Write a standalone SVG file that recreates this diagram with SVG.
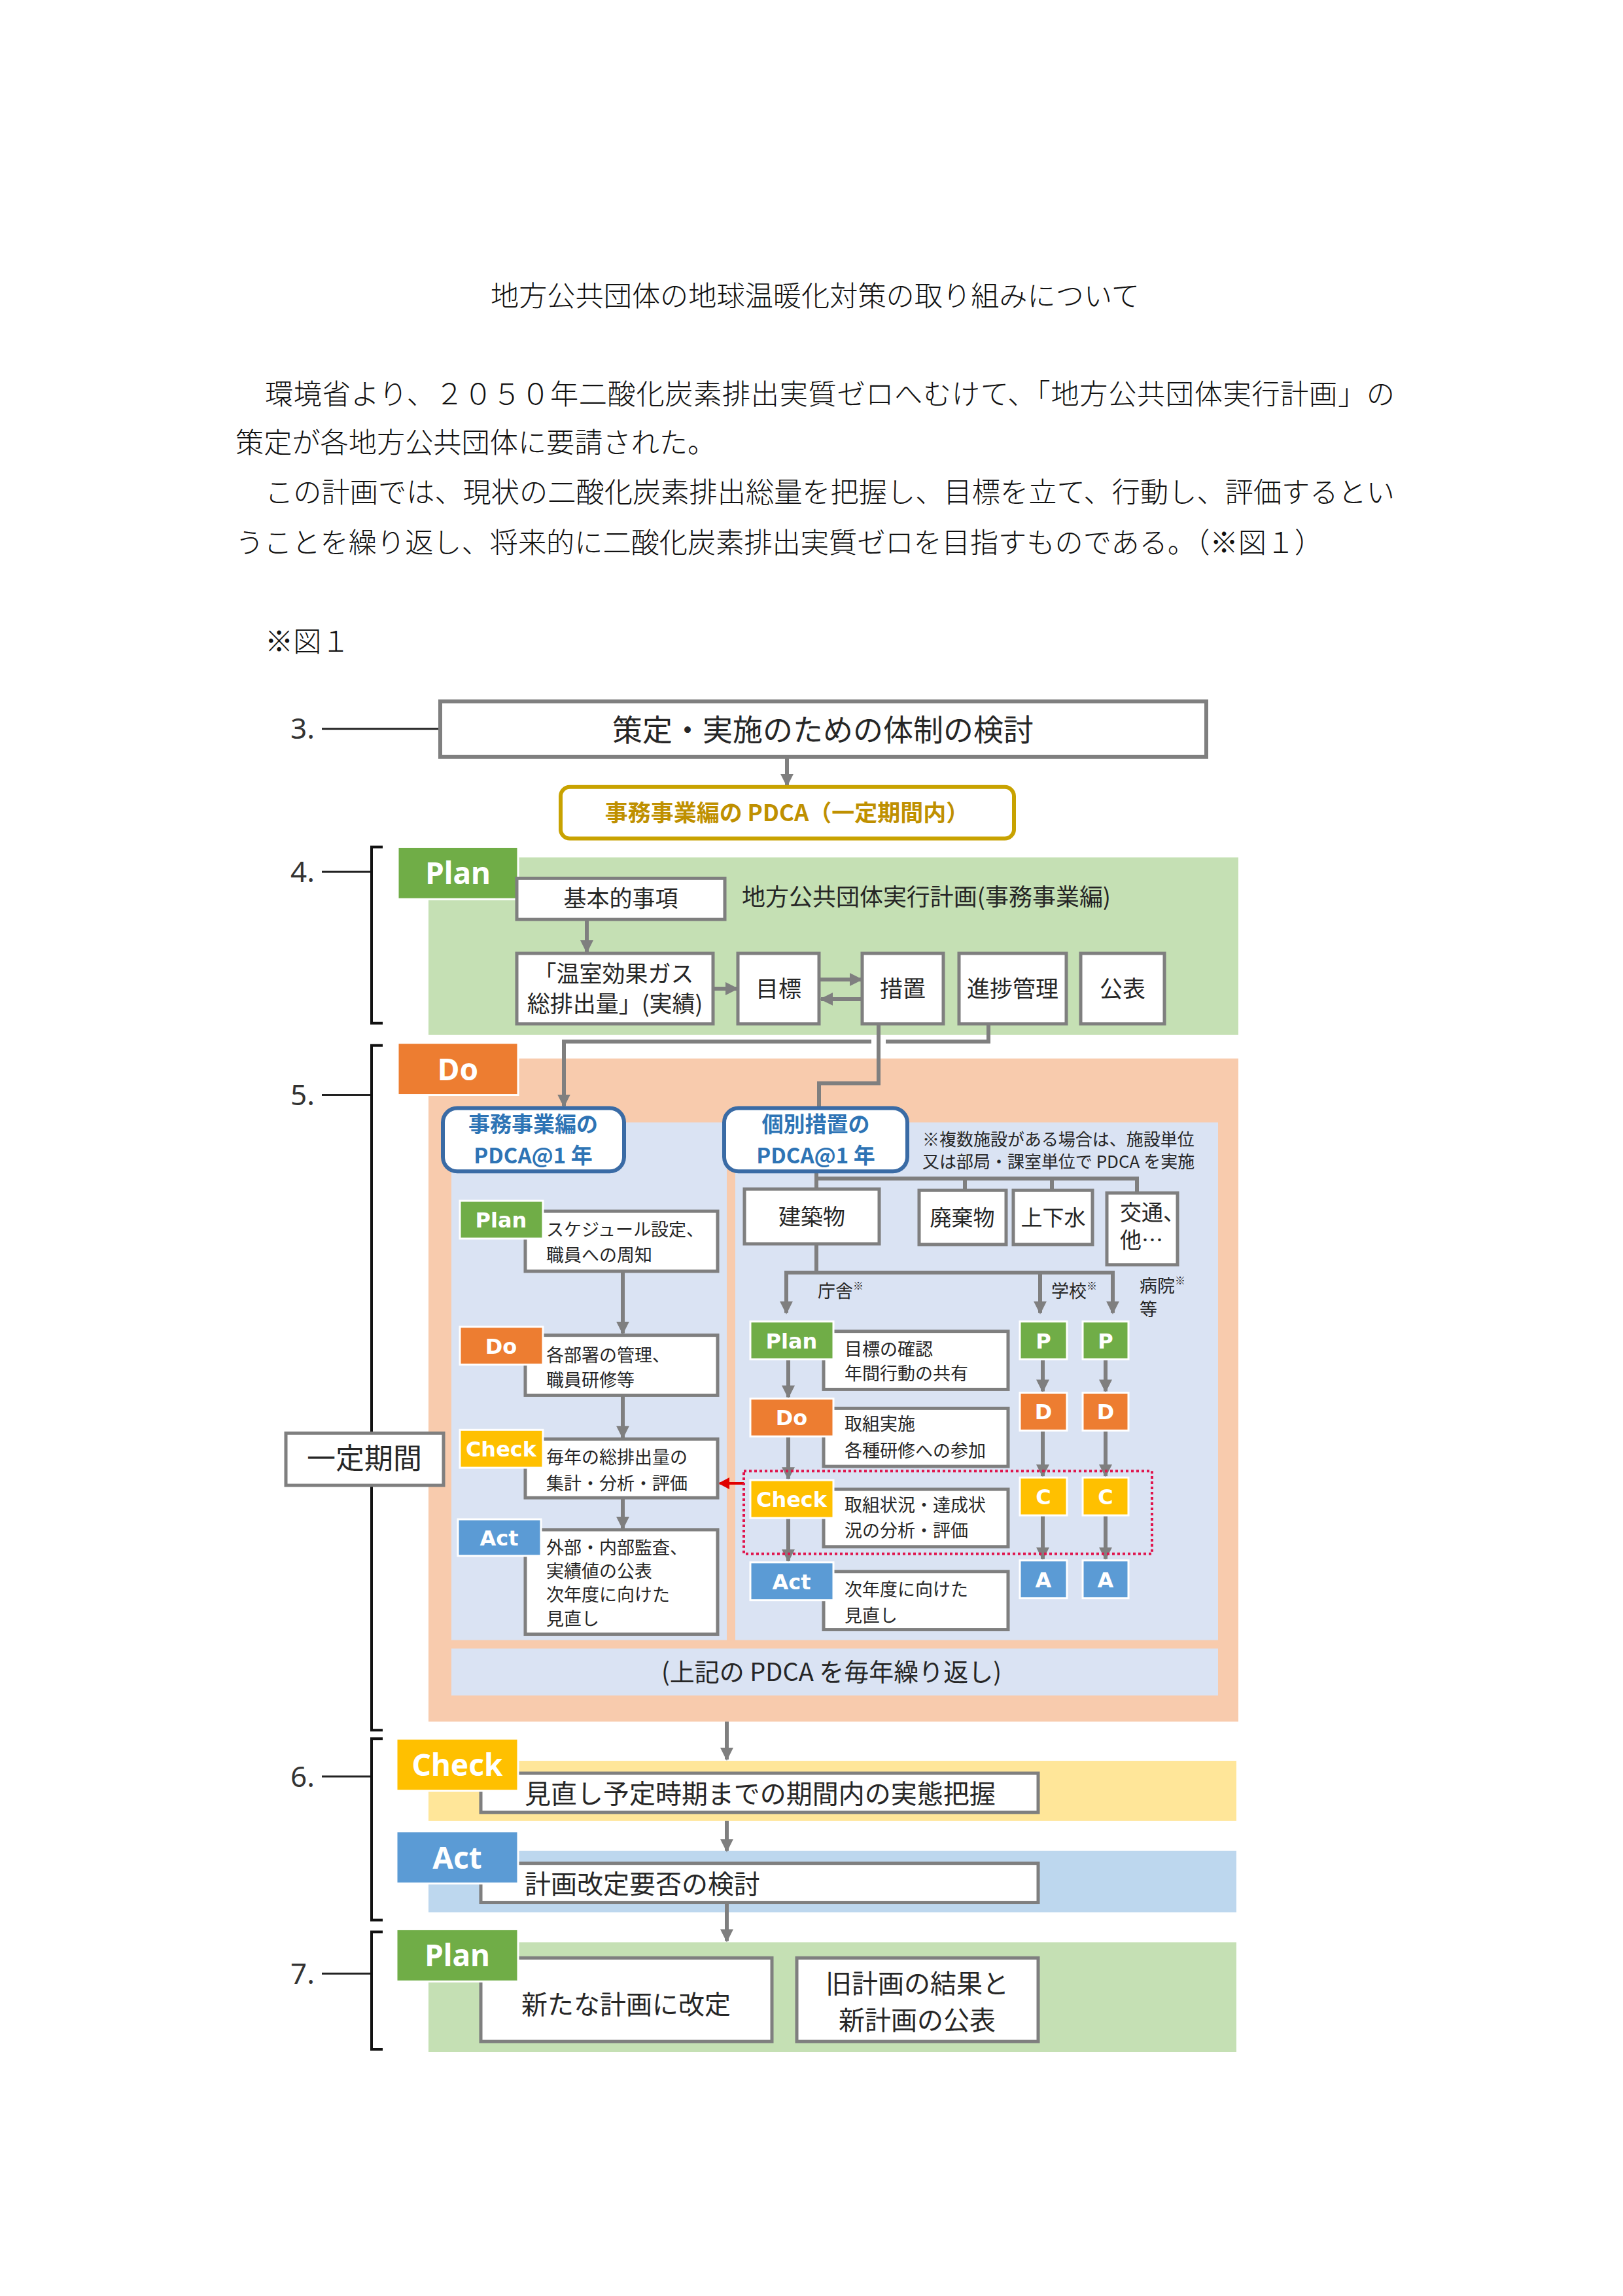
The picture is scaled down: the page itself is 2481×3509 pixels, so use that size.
<svg xmlns="http://www.w3.org/2000/svg" width="2481" height="3509" viewBox="0 0 2481 3509">
<style>
.doc{font-family:"Noto Sans CJK JP","Noto Sans CJK SC",sans-serif;font-size:43.2px;font-weight:300;fill:#111}
.t{font-family:"Noto Sans CJK JP","Noto Sans CJK SC",sans-serif;fill:#262626}
.c{text-anchor:middle}
.box{fill:#fff;stroke:#7f7f7f;stroke-width:5}
.lbl{font-family:"Noto Sans","Noto Sans CJK JP",sans-serif;font-weight:bold;font-size:46px;fill:#fff;text-anchor:middle}
.sl{font-family:"DejaVu Sans","Noto Sans CJK JP",sans-serif;font-weight:bold;font-size:32px;fill:#fff;text-anchor:middle}
.num{font-family:"Noto Sans","Noto Sans CJK JP",sans-serif;font-size:44px;fill:#333}
.g{fill:#70ad47;stroke:#fff;stroke-width:3}
.o{fill:#ed7d31;stroke:#fff;stroke-width:3}
.y{fill:#ffc000;stroke:#fff;stroke-width:3}
.b{fill:#5b9bd5;stroke:#fff;stroke-width:3}
.ln{fill:none;stroke:#7f7f7f;stroke-width:6}
.ar{fill:none;stroke:#7f7f7f;stroke-width:6;marker-end:url(#ah)}
.br{fill:none;stroke:#111;stroke-width:4}
.rb{fill:#fff;stroke:#3a6ba5;stroke-width:6}
.rbt{font-family:"Noto Sans CJK JP",sans-serif;font-weight:bold;font-size:33px;fill:#2e74b5;text-anchor:middle}
.f27{font-size:27px}
.f35{font-size:35px}
.f40{font-size:40px}
</style>
<defs>
<marker id="ah" markerUnits="userSpaceOnUse" markerWidth="24" markerHeight="20" refX="18" refY="10" orient="auto">
<path d="M0,0 L20,10 L0,20 Z" fill="#7f7f7f"/>
</marker>
<marker id="rah" markerUnits="userSpaceOnUse" markerWidth="20" markerHeight="18" refX="15" refY="9" orient="auto">
<path d="M0,0 L17,9 L0,18 Z" fill="#e00000"/>
</marker>
</defs>
<rect width="2481" height="3509" fill="#fff"/>

<g id="document-text">
<text class="doc c" x="1246" y="468" font-size="43.5">地方公共団体の地球温暖化対策の取り組みについて</text>
<text class="doc" x="405" y="618" textLength="1727" lengthAdjust="spacing">環境省より、２０５０年二酸化炭素排出実質ゼロへむけて、「地方公共団体実行計画」の</text>
<text class="doc" x="360" y="692">策定が各地方公共団体に要請された。</text>
<text class="doc" x="405" y="768" textLength="1727" lengthAdjust="spacing">この計画では、現状の二酸化炭素排出総量を把握し、目標を立て、行動し、評価するとい</text>
<text class="doc" x="360" y="845">うことを繰り返し、将来的に二酸化炭素排出実質ゼロを目指すものである。（※図１）</text>
<text class="doc" x="405" y="996">※図１</text>
</g>

<g id="figure" transform="matrix(1,0,0,0.99758,0,-2.4)">

<g id="section-backgrounds">
<rect x="655" y="1316" width="1238" height="272" fill="#c5e0b4"/>
<rect x="655" y="1624" width="1238" height="1016" fill="#f8cbad"/>
<rect x="690" y="1722" width="421" height="793" fill="#dae3f3"/>
<rect x="1124" y="1722" width="738" height="793" fill="#dae3f3"/>
<rect x="655" y="2700" width="1235" height="92" fill="#ffe699"/>
<rect x="655" y="2838" width="1235" height="94" fill="#bdd7ee"/>
<rect x="655" y="2978" width="1235" height="168" fill="#c5e0b4"/>
</g>

<g id="step-markers">
<text class="num" x="444" y="1134">3.</text>
<line x1="492" y1="1119" x2="673" y2="1119" stroke="#222" stroke-width="3"/>
<text class="num" x="444" y="1354">4.</text>
<line x1="492" y1="1338" x2="568" y2="1338" stroke="#222" stroke-width="3"/>
<path class="br" d="M585,1300 H568 V1570 H585"/>
<text class="num" x="444" y="1696">5.</text>
<line x1="492" y1="1680" x2="568" y2="1680" stroke="#222" stroke-width="3"/>
<path class="br" d="M585,1604 H568 V2653 H585"/>
<text class="num" x="444" y="2740">6.</text>
<line x1="492" y1="2724" x2="568" y2="2724" stroke="#222" stroke-width="3"/>
<path class="br" d="M585,2666 H568 V2944 H585"/>
<text class="num" x="444" y="3042">7.</text>
<line x1="492" y1="3026" x2="568" y2="3026" stroke="#222" stroke-width="3"/>
<path class="br" d="M585,2962 H568 V3142 H585"/>
</g>

<g id="connectors">
<path class="ar" d="M1203,1163 V1206"/>
<path class="ar" d="M897,1411 V1461"/>
<path class="ar" d="M1090,1517 H1127"/>
<path class="ar" d="M1254,1503 H1317"/>
<path class="ar" d="M1318,1533 H1255"/>
<path class="ln" d="M1511,1571 V1598 H1354"/>
<path class="ar" d="M1332,1598 H862 V1697"/>
<path class="ln" d="M1343,1571 V1662 H1252 V1700"/>
<path class="ln" d="M1248,1797 V1826"/>
<path class="ln" d="M1245,1808 H1741"/>
<path class="ln" d="M1475,1808 V1827"/>
<path class="ln" d="M1608,1808 V1827"/>
<path class="ln" d="M1738,1808 V1831"/>
<path class="ln" d="M1248,1908 V1952"/>
<path class="ln" d="M1199,1952 H1704"/>
<path class="ar" d="M1202,1952 V2014"/>
<path class="ar" d="M1590,1952 V2014"/>
<path class="ar" d="M1701,1952 V2014"/>
<path class="ar" d="M952,1950 V2045"/>
<path class="ar" d="M952,2140 V2205"/>
<path class="ar" d="M952,2297 V2344"/>
<path class="ar" d="M1205,2085 V2143"/>
<path class="ar" d="M1205,2203 V2268"/>
<path class="ar" d="M1205,2328 V2394"/>
<path class="ar" d="M1594,2085 V2134"/>
<path class="ar" d="M1594,2194 V2264"/>
<path class="ar" d="M1594,2324 V2391"/>
<path class="ar" d="M1690,2085 V2134"/>
<path class="ar" d="M1690,2194 V2264"/>
<path class="ar" d="M1690,2324 V2391"/>
<path d="M1137,2275 H1100" fill="none" stroke="#e00000" stroke-width="4" marker-end="url(#rah)"/>
<path class="ar" d="M1111,2640 V2698"/>
<path class="ar" d="M1111,2792 V2838"/>
<path class="ar" d="M1111,2917 V2976"/>
</g>

<g id="node-taisei">
<rect x="673" y="1077" width="1171" height="85" fill="#fff" stroke="#7f7f7f" stroke-width="6"/>
<text class="t c" x="1258" y="1137" font-size="46">策定・実施のための体制の検討</text>
</g>
<g id="node-pdca-period">
<rect x="857" y="1208" width="693" height="79" rx="14" fill="#fff" stroke="#c8a200" stroke-width="6"/>
<text class="c" x="1203" y="1260" font-family="Noto Sans CJK JP,sans-serif" font-weight="bold" font-size="35" fill="#bf9000">事務事業編の PDCA（一定期間内）</text>
</g>

<g id="node-plan4">
<rect class="g" x="608" y="1300" width="184" height="80"/>
<text class="lbl" x="700" y="1357">Plan</text>
</g>
<g id="node-kihon">
<rect class="box" x="790" y="1348" width="318" height="63"/>
<text class="t c f35" x="949" y="1392">基本的事項</text>
</g>
<text id="label-jikkou" class="t" x="1134" y="1390" font-size="36">地方公共団体実行計画(事務事業編)</text>
<g id="node-onshitsu">
<rect class="box" x="790" y="1463" width="300" height="108"/>
<text class="t c f35" x="938" y="1507">「温室効果ガス</text>
<text class="t c f35" x="940" y="1553">総排出量」(実績)</text>
</g>
<g id="node-mokuhyo">
<rect class="box" x="1128" y="1463" width="124" height="108"/>
<text class="t c f35" x="1190" y="1530">目標</text>
</g>
<g id="node-sochi">
<rect class="box" x="1318" y="1463" width="124" height="108"/>
<text class="t c f35" x="1380" y="1530">措置</text>
</g>
<g id="node-shinchoku">
<rect class="box" x="1466" y="1463" width="164" height="108"/>
<text class="t c f35" x="1548" y="1530">進捗管理</text>
</g>
<g id="node-kohyo">
<rect class="box" x="1652" y="1463" width="128" height="108"/>
<text class="t c f35" x="1716" y="1530">公表</text>
</g>

<g id="node-do5">
<rect class="o" x="608" y="1600" width="184" height="80"/>
<text class="lbl" x="700" y="1657">Do</text>
</g>
<g id="node-jimu-pdca">
<rect class="rb" x="677" y="1700" width="277" height="97" rx="22"/>
<text class="rbt" x="815" y="1737">事務事業編の</text>
<text class="rbt" x="815" y="1785">PDCA@1 年</text>
</g>
<g id="node-kobetsu-pdca">
<rect class="rb" x="1107" y="1700" width="280" height="97" rx="22"/>
<text class="rbt" x="1247" y="1737">個別措置の</text>
<text class="rbt" x="1247" y="1785">PDCA@1 年</text>
</g>
<g id="note-fukusu">
<text class="t" x="1410" y="1758" font-size="26">※複数施設がある場合は、施設単位</text>
<text class="t" x="1410" y="1792" font-size="26">又は部局・課室単位で PDCA を実施</text>
</g>

<g id="node-left-plan">
<rect class="box" x="803" y="1858" width="294" height="92"/>
<rect class="g" x="703" y="1842" width="127" height="58"/>
<text class="sl" x="766" y="1883">Plan</text>
<text class="t f27" x="835" y="1896">スケジュール設定、</text>
<text class="t f27" x="835" y="1935">職員への周知</text>
</g>
<g id="node-left-do">
<rect class="box" x="803" y="2048" width="294" height="92"/>
<rect class="o" x="703" y="2035" width="127" height="58"/>
<text class="sl" x="766" y="2076">Do</text>
<text class="t f27" x="835" y="2088">各部署の管理、</text>
<text class="t f27" x="835" y="2127">職員研修等</text>
</g>
<g id="node-left-check">
<rect class="box" x="803" y="2207" width="294" height="90"/>
<rect class="y" x="703" y="2193" width="127" height="58"/>
<text class="sl" x="766" y="2234" font-size="30">Check</text>
<text class="t f27" x="835" y="2245">毎年の総排出量の</text>
<text class="t f27" x="835" y="2285">集計・分析・評価</text>
</g>
<g id="node-left-act">
<rect class="box" x="803" y="2346" width="294" height="160"/>
<rect class="b" x="700" y="2330" width="127" height="56"/>
<text class="sl" x="763" y="2370">Act</text>
<text class="t f27" x="835" y="2383">外部・内部監査、</text>
<text class="t f27" x="835" y="2419">実績値の公表</text>
<text class="t f27" x="835" y="2455">次年度に向けた</text>
<text class="t f27" x="835" y="2492">見直し</text>
</g>

<g id="node-ittei">
<rect x="437" y="2198" width="241" height="80" fill="#fff" stroke="#7f7f7f" stroke-width="5"/>
<text class="t c" x="557" y="2253" font-size="44">一定期間</text>
</g>

<g id="node-kenchiku">
<rect class="box" x="1138" y="1824" width="206" height="84"/>
<text class="t c" x="1241" y="1879" font-size="34">建築物</text>
</g>
<g id="node-haiki">
<rect class="box" x="1405" y="1826" width="133" height="83"/>
<text class="t c" x="1471" y="1880" font-size="33">廃棄物</text>
</g>
<g id="node-jogesui">
<rect class="box" x="1549" y="1826" width="121" height="83"/>
<text class="t c" x="1610" y="1880" font-size="33">上下水</text>
</g>
<g id="node-kotsu">
<rect class="box" x="1692" y="1830" width="108" height="110"/>
<text class="t" x="1712" y="1872" font-size="33">交通、</text>
<text class="t" x="1712" y="1914" font-size="33">他…</text>
</g>
<g id="labels-facility">
<text class="t f27" x="1250" y="1990">庁舎<tspan font-size="16" dy="-12">※</tspan></text>
<text class="t f27" x="1607" y="1990">学校<tspan font-size="16" dy="-12">※</tspan></text>
<text class="t f27" x="1742" y="1982">病院<tspan font-size="16" dy="-12">※</tspan></text>
<text class="t f27" x="1742" y="2018">等</text>
</g>

<g id="node-right-plan">
<rect class="box" x="1259" y="2042" width="282" height="89"/>
<rect class="g" x="1147" y="2027" width="127" height="58"/>
<text class="sl" x="1210" y="2068">Plan</text>
<text class="t f27" x="1291" y="2079">目標の確認</text>
<text class="t f27" x="1291" y="2117">年間行動の共有</text>
</g>
<g id="node-right-do">
<rect class="box" x="1259" y="2160" width="282" height="89"/>
<rect class="o" x="1147" y="2145" width="127" height="58"/>
<text class="sl" x="1210" y="2186">Do</text>
<text class="t f27" x="1291" y="2194">取組実施</text>
<text class="t f27" x="1291" y="2235">各種研修への参加</text>
</g>
<g id="node-right-check">
<rect class="box" x="1259" y="2284" width="282" height="88"/>
<rect class="y" x="1147" y="2270" width="127" height="58"/>
<text class="sl" x="1210" y="2311" font-size="30">Check</text>
<text class="t f27" x="1291" y="2318">取組状況・達成状</text>
<text class="t f27" x="1291" y="2357">況の分析・評価</text>
</g>
<g id="node-right-act">
<rect class="box" x="1259" y="2410" width="282" height="89"/>
<rect class="b" x="1147" y="2396" width="127" height="58"/>
<text class="sl" x="1210" y="2437">Act</text>
<text class="t f27" x="1291" y="2447">次年度に向けた</text>
<text class="t f27" x="1291" y="2487">見直し</text>
</g>
<g id="node-school-pdca">
<rect class="g" x="1559" y="2027" width="72" height="58"/>
<text class="sl" x="1595" y="2068">P</text>
<rect class="o" x="1559" y="2136" width="72" height="58"/>
<text class="sl" x="1595" y="2177">D</text>
<rect class="y" x="1559" y="2266" width="72" height="58"/>
<text class="sl" x="1595" y="2307">C</text>
<rect class="b" x="1559" y="2393" width="72" height="58"/>
<text class="sl" x="1595" y="2434">A</text>
</g>
<g id="node-hospital-pdca">
<rect class="g" x="1655" y="2027" width="70" height="58"/>
<text class="sl" x="1690" y="2068">P</text>
<rect class="o" x="1655" y="2136" width="70" height="58"/>
<text class="sl" x="1690" y="2177">D</text>
<rect class="y" x="1655" y="2266" width="70" height="58"/>
<text class="sl" x="1690" y="2307">C</text>
<rect class="b" x="1655" y="2393" width="70" height="58"/>
<text class="sl" x="1690" y="2434">A</text>
</g>
<rect id="check-highlight" x="1137" y="2256" width="624" height="127" fill="none" stroke="#e0144c" stroke-width="4" stroke-dasharray="4 4"/>

<g id="node-repeat">
<rect x="690" y="2528" width="1172" height="72" fill="#dae3f3"/>
<text class="t c" x="1271" y="2578" font-size="38">(上記の PDCA を毎年繰り返し)</text>
</g>

<g id="node-jittai">
<rect class="box" x="735" y="2719" width="852" height="60"/>
<text class="t f40" x="802" y="2765">見直し予定時期までの期間内の実態把握</text>
</g>
<g id="node-check6">
<rect class="y" x="606" y="2666" width="186" height="80"/>
<text class="lbl" x="699" y="2723">Check</text>
</g>
<g id="node-kaitei-yohi">
<rect class="box" x="735" y="2857" width="852" height="60"/>
<text class="t f40" x="802" y="2903">計画改定要否の検討</text>
</g>
<g id="node-act6">
<rect class="b" x="606" y="2808" width="186" height="80"/>
<text class="lbl" x="699" y="2865">Act</text>
</g>
<g id="node-shin-keikaku">
<rect class="box" x="735" y="3002" width="445" height="128"/>
<text class="t c f40" x="957" y="3088">新たな計画に改定</text>
</g>
<g id="node-kohyo7">
<rect class="box" x="1218" y="3002" width="369" height="128"/>
<text class="t c f40" x="1402" y="3056">旧計画の結果と</text>
<text class="t c f40" x="1402" y="3112">新計画の公表</text>
</g>
<g id="node-plan7">
<rect class="g" x="606" y="2958" width="186" height="80"/>
<text class="lbl" x="699" y="3015">Plan</text>
</g>

</g>
</svg>
